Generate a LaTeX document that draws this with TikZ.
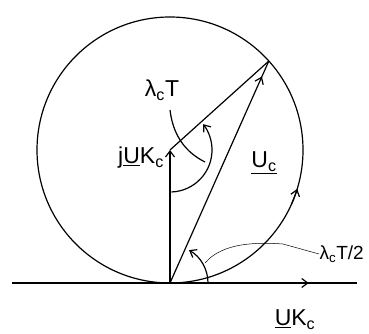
\documentclass[tikz,border=0pt]{standalone}
\usepackage{fontspec}
\setmainfont{Liberation Sans}
\usetikzlibrary{decorations.markings,arrows.meta,calc}
\begin{document}
\begin{tikzpicture}[x=1pt,y=1pt,
  line/.style={line width=1.2pt},
  thin line/.style={line width=0.5pt},
  lbl/.style={font=\fontsize{23}{23}\selectfont, inner sep=1pt},
  smalllbl/.style={font=\fontsize{19}{19}\selectfont, inner sep=0.5pt},
  tip/.style={-{Straight Barb[length=6pt,width=9pt]}},
  midarrow/.style={postaction={decorate},decoration={markings,mark=at position #1 with {\arrow{Straight Barb[length=6pt,width=9pt]}}}}
]
\useasboundingbox (0,0) rectangle (369,-334);
\coordinate (O) at (170,-283);
\coordinate (C) at (170,-150);
\coordinate (P) at ($(C)+(42:133)$);
\coordinate (L) at (12,-283);
\coordinate (R) at (357,-283);
% circle
\draw[line] (C) circle[radius=133];
% arrow on circle
\draw[line,tip] ($(C)+(-24:133)$) arc[start angle=-24,end angle=-17,radius=133];
% horizontal axis
\draw[line,midarrow=0.86] (L) -- (R);
% vertical arrow
\draw[line,tip] (O) -- (C);
% C to P
\draw[line] (C) -- (P);
% O to P with arrow near top
\draw[line,midarrow=0.93] (O) -- (P);
% angle arc at C
\draw[line,tip] ($(C)+(-88:42)$) arc[start angle=-88,end angle=38,radius=42];
% cross mark
\coordinate (m1) at (170,-110);
\coordinate (m2) at (205,-162);
\draw[line] (m1) .. controls (173,-135) and (185,-152) .. (m2);
% small angle arc at O
\draw[line,tip] ($(O)+(0:38)$) arc[start angle=0,end angle=60,radius=38];
% labels
\node[lbl] (lt) at (162,-90) {λ\textsubscript{c}T};
\node[lbl,anchor=east] (ju) at (165,-158) {j\underline{U}K\textsubscript{c}};
\node[lbl] (uc) at (264,-163) {\underline{U\textsubscript{c}}};
\node[smalllbl,anchor=west] (lt2) at (319,-254) {λ\textsubscript{c}T/2};
\node[lbl] (uk) at (295,-320) {\underline{U}K\textsubscript{c}};
% leader
\coordinate (a1) at (205,-263);
\draw[thin line] (a1) .. controls (222,-243) and (255,-242) .. (283,-244) -- (lt2.west);
\end{tikzpicture}
\end{document}
